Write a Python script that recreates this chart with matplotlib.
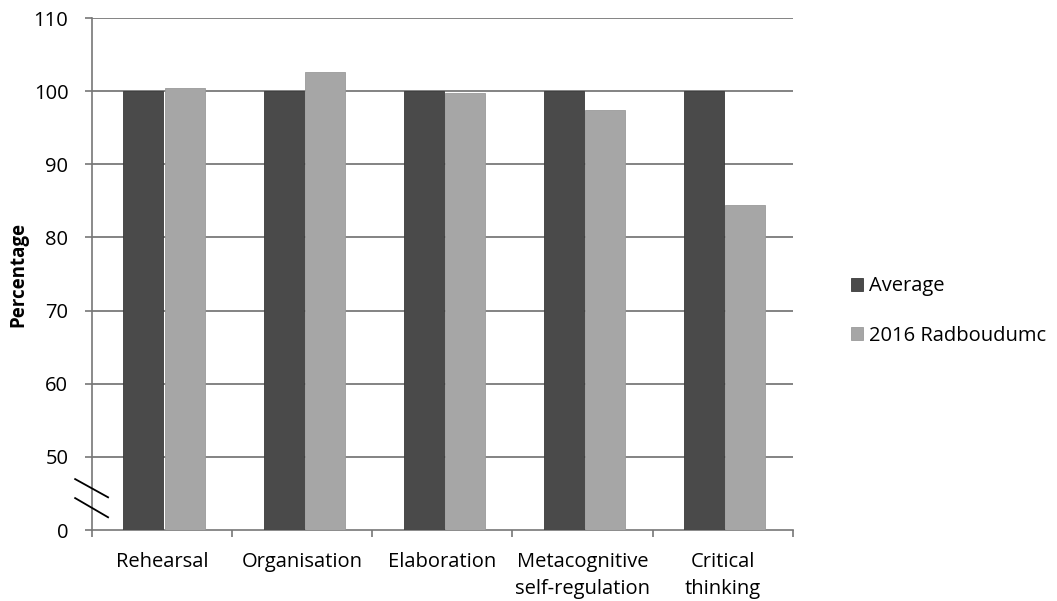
import numpy as np
import matplotlib.pyplot as plt

# Learning strategy scores, average set to 100
categories = ["Rehearsal", "Organisation", "Elaboration",
              "Metacognitive\nself-regulation", "Critical\nthinking"]
average = [100, 100, 100, 100, 100]
radboudumc_2016 = [100.5, 102.6, 99.7, 97.4, 84.4]

y_ticks = [0, 50, 60, 70, 80, 90, 100, 110]

# broken axis: 0 sits one grid step under 50
AXIS_BOTTOM = 40


def axis_pos(v):
    return v if v >= 50 else AXIS_BOTTOM + v / 50 * 10


plt.rcParams["font.family"] = ["Open Sans", "DejaVu Sans"]

fig = plt.figure(figsize=(10.57, 6.01), dpi=100)
ax = fig.add_axes([0.087, 0.118, 0.663, 0.852])

x = np.arange(len(categories))
w = 0.285
base = axis_pos(0)
ax.bar(x - w / 2 + 0.01, np.array(average) - base, w, bottom=base,
       color="#4a4a4a", edgecolor="#3a3a3a", linewidth=0.6, label="Average", zorder=3)
ax.bar(x + w / 2 + 0.018, np.array(radboudumc_2016) - base, w, bottom=base,
       color="#a6a6a6", edgecolor="#9a9a9a", linewidth=0.6, label="2016 Radboudumc", zorder=3)

ax.set_xlim(-0.5, len(categories) - 0.5)
ax.set_ylim(AXIS_BOTTOM, 110)
ax.set_yticks([axis_pos(t) for t in y_ticks])
ax.set_yticklabels([str(t) for t in y_ticks], fontsize=14.5)
ax.set_xticks(x)
ax.set_xticklabels(categories, fontsize=14.5, linespacing=1.45)
ax.set_xticks(np.arange(len(categories) + 1) - 0.5, minor=True)
ax.tick_params(axis="x", which="major", length=0, pad=16)
ax.tick_params(axis="x", which="minor", length=5, color="#777777", width=1.2)
ax.tick_params(axis="y", length=5, color="#777777", width=1.2, pad=12)

# horizontal gridlines from 50 upward
for t in y_ticks[1:]:
    ax.axhline(axis_pos(t), color="#7a7a7a", linewidth=1.3, zorder=1)

for side in ["top", "right"]:
    ax.spines[side].set_visible(False)
for side in ["left", "bottom"]:
    ax.spines[side].set_color("#777777")
    ax.spines[side].set_linewidth(1.2)

ax.set_ylabel("Percentage", fontsize=13.5, fontweight="bold", labelpad=4)

# break marks on the y axis
for y0, y1 in [(0.0996, 0.064), (0.0625, 0.025)]:
    ax.plot([-0.024, 0.023], [y0, y1], transform=ax.transAxes,
            color="black", linewidth=1.3, clip_on=False, zorder=5)

ax.legend(loc="center left", bbox_to_anchor=(1.057, 0.428), frameon=False,
          fontsize=14.5, handlelength=0.6, handleheight=0.6, handletextpad=0.3,
          labelspacing=1.45)

fig.savefig("out.png", dpi=100)
